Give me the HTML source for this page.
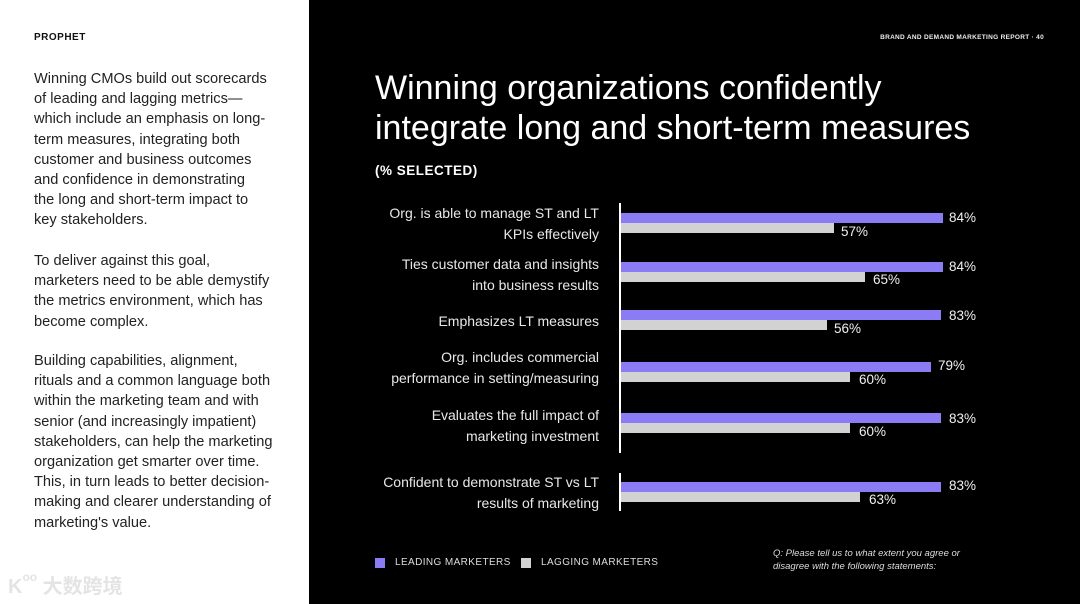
<!DOCTYPE html>
<html><head><meta charset="utf-8"><style>
*{margin:0;padding:0;box-sizing:border-box}
body{width:1080px;height:604px;position:relative;overflow:hidden;font-family:"Liberation Sans",sans-serif;background:#000}
.left{position:absolute;left:0;top:0;width:309px;height:604px;background:#fff}
.abs{position:absolute;white-space:nowrap}
.p{position:absolute;left:34px;font-size:14.6px;line-height:20.2px;color:#222;white-space:nowrap}
.lab{position:absolute;right:481px;text-align:right;color:#e8e8e8;font-size:14px;line-height:20.5px;white-space:nowrap}
.b{position:absolute;left:621px;height:10px}
.pu{background:#8b7cf6}.gr{background:#d2d2d2}
.v{position:absolute;color:#f0f0f0;font-size:13.5px}
</style></head><body>
<div class="left">
<div class="abs" style="left:34px;top:32px;font-size:10px;font-weight:bold;letter-spacing:.5px;color:#111">PROPHET</div>
<div class="p" style="top:69px">Winning CMOs build out scorecards<br>of leading and lagging metrics—<br>which include an emphasis on long-<br>term measures, integrating both<br>customer and business outcomes<br>and confidence in demonstrating<br>the long and short-term impact to<br>key stakeholders.</div>
<div class="p" style="top:251px">To deliver against this goal,<br>marketers need to be able demystify<br>the metrics environment, which has<br>become complex.</div>
<div class="p" style="top:351px">Building capabilities, alignment,<br>rituals and a common language both<br>within the marketing team and with<br>senior (and increasingly impatient)<br>stakeholders, can help the marketing<br>organization get smarter over time.<br>This, in turn leads to better decision-<br>making and clearer understanding of<br>marketing's value.</div>
<div class="abs" style="left:8px;top:570px;font-size:20px;color:#e4e4e4;font-family:'Liberation Sans','Noto Sans CJK SC',sans-serif;font-weight:bold">K<span style="font-size:12px;vertical-align:top">oo</span> 大数跨境</div>
</div>
<div class="abs" style="right:36px;top:34px;font-size:6.5px;font-weight:bold;color:#eee;letter-spacing:.3px">BRAND AND DEMAND MARKETING REPORT · 40</div>
<div class="abs" style="left:375px;top:68px;font-size:34px;line-height:40px;color:#fff">Winning organizations confidently<br>integrate long and short-term measures</div>
<div class="abs" style="left:375px;top:163px;font-size:13.5px;font-weight:bold;color:#fff;letter-spacing:.5px">(% SELECTED)</div>
<div class="abs" style="left:619px;top:203px;width:2px;height:250px;background:#fff"></div>
<div class="abs" style="left:619px;top:473px;width:2px;height:38px;background:#fff"></div>
<div class="lab" style="top:203px">Org. is able to manage ST and LT<br>KPIs effectively</div>
<div class="lab" style="top:254px">Ties customer data and insights<br>into business results</div>
<div class="lab" style="top:311px">Emphasizes LT measures</div>
<div class="lab" style="top:347px">Org. includes commercial<br>performance in setting/measuring</div>
<div class="lab" style="top:405px">Evaluates the full impact of<br>marketing investment</div>
<div class="lab" style="top:472px">Confident to demonstrate ST vs LT<br>results of marketing</div>

<div class="b pu" style="top:213px;width:322px"></div><div class="b gr" style="top:223px;width:213px"></div>
<div class="v" style="left:949px;top:210px">84%</div><div class="v" style="left:841px;top:224px">57%</div>
<div class="b pu" style="top:262px;width:322px"></div><div class="b gr" style="top:272px;width:244px"></div>
<div class="v" style="left:949px;top:259px">84%</div><div class="v" style="left:873px;top:272px">65%</div>
<div class="b pu" style="top:310px;width:320px"></div><div class="b gr" style="top:320px;width:206px"></div>
<div class="v" style="left:949px;top:308px">83%</div><div class="v" style="left:834px;top:321px">56%</div>
<div class="b pu" style="top:362px;width:310px"></div><div class="b gr" style="top:372px;width:229px"></div>
<div class="v" style="left:938px;top:358px">79%</div><div class="v" style="left:859px;top:372px">60%</div>
<div class="b pu" style="top:413px;width:320px"></div><div class="b gr" style="top:423px;width:229px"></div>
<div class="v" style="left:949px;top:411px">83%</div><div class="v" style="left:859px;top:424px">60%</div>
<div class="b pu" style="top:482px;width:320px"></div><div class="b gr" style="top:492px;width:239px"></div>
<div class="v" style="left:949px;top:478px">83%</div><div class="v" style="left:869px;top:492px">63%</div>

<div class="abs" style="left:375px;top:558px;width:10px;height:10px;background:#8b7cf6"></div>
<div class="abs" style="left:395px;top:557px;font-size:10px;color:#ddd;letter-spacing:.4px">LEADING MARKETERS</div>
<div class="abs" style="left:521px;top:558px;width:10px;height:10px;background:#d2d2d2"></div>
<div class="abs" style="left:541px;top:557px;font-size:10px;color:#ddd;letter-spacing:.4px">LAGGING MARKETERS</div>
<div class="abs" style="left:773px;top:547px;font-size:9.5px;line-height:13px;color:#ddd;font-style:italic">Q: Please tell us to what extent you agree or<br>disagree with the following statements:</div>
</body></html>
